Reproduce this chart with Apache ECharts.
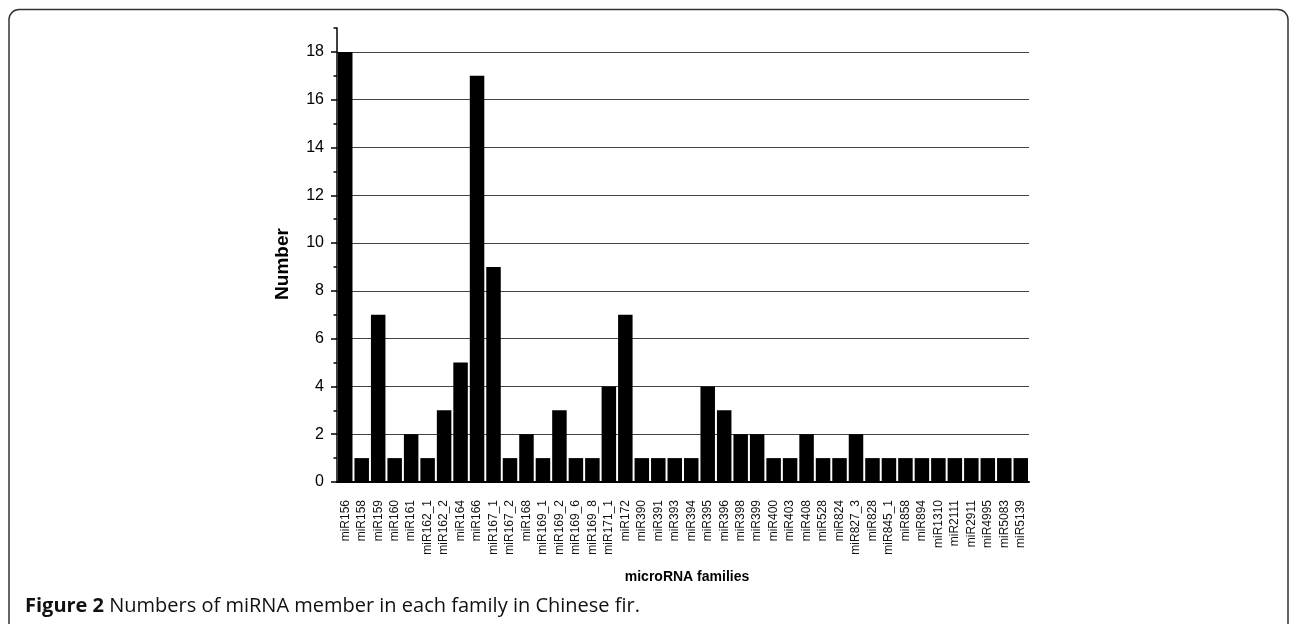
<!DOCTYPE html>
<html>
<head>
<meta charset="utf-8">
<script src="https://cdn.jsdelivr.net/npm/echarts@6/dist/echarts.min.js"></script>
<style>
  html, body { margin: 0; padding: 0; background: #fff; }
  #chart { width: 1292px; height: 624px; }
</style>
</head>
<body>
<div id="chart"></div>
<script>
// miRNA families and their member counts
const families = [
  'miR156', 'miR158', 'miR159', 'miR160', 'miR161', 'miR162_1', 'miR162_2', 'miR164',
  'miR166', 'miR167_1', 'miR167_2', 'miR168', 'miR169_1', 'miR169_2', 'miR169_6', 'miR169_8',
  'miR171_1', 'miR172', 'miR390', 'miR391', 'miR393', 'miR394', 'miR395', 'miR396',
  'miR398', 'miR399', 'miR400', 'miR403', 'miR408', 'miR528', 'miR824', 'miR827_3',
  'miR828', 'miR845_1', 'miR858', 'miR894', 'miR1310', 'miR2111', 'miR2911', 'miR4995',
  'miR5083', 'miR5139'
];
const memberCounts = [
  18, 1, 7, 1, 2, 1, 3, 5,
  17, 9, 1, 2, 1, 3, 1, 1,
  4, 7, 1, 1, 1, 1, 4, 3,
  2, 2, 1, 1, 2, 1, 1, 2,
  1, 1, 1, 1, 1, 1, 1, 1,
  1, 1
];
const yTicks = [0, 2, 4, 6, 8, 10, 12, 14, 16, 18];
const yMax = 19;

const FONT = "'Liberation Sans', Arial, sans-serif";
const chart = echarts.init(document.getElementById('chart'), null, { renderer: 'canvas' });

chart.setOption({
  animation: false,
  backgroundColor: '#ffffff',
  textStyle: { fontFamily: FONT },
  grid: { left: 337, right: 263, top: 28, bottom: 142, containLabel: false },
  xAxis: {
    type: 'category',
    data: families,
    boundaryGap: true,
    axisLine: { show: true, onZero: true, lineStyle: { color: '#000', width: 2 } },
    axisTick: { show: false },
    axisLabel: {
      rotate: 90,
      interval: 0,
      margin: 18,
      fontSize: 12,
      color: '#111',
      fontFamily: FONT
    },
    splitLine: { show: false }
  },
  yAxis: [
    {
      type: 'value',
      min: 0,
      max: yMax,
      interval: 2,
      position: 'left',
      axisLine: { show: true, lineStyle: { color: '#000', width: 1.5 } },
      axisTick: { show: true, inside: false, length: 6, customValues: yTicks, lineStyle: { color: '#000', width: 1.5 } },
      axisLabel: {
        customValues: yTicks,
        margin: 13,
        fontSize: 16,
        color: '#000',
        fontFamily: FONT
      },
      splitLine: {
        show: true,
        showMinLine: false,
        lineStyle: { color: '#444', width: 1 }
      }
    },
    {
      type: 'value',
      min: 0,
      max: yMax,
      interval: 1,
      position: 'left',
      axisLine: { show: false },
      axisTick: { show: true, inside: false, length: 3.5, lineStyle: { color: '#000', width: 1.5 } },
      axisLabel: { show: false },
      splitLine: { show: false }
    }
  ],
  series: [
    {
      type: 'bar',
      data: memberCounts,
      yAxisIndex: 0,
      barCategoryGap: '12%',
      itemStyle: { color: '#000' }
    }
  ],
  graphic: [
    {
      type: 'rect',
      shape: { x: 9, y: 9.5, width: 1279, height: 720, r: 10 },
      style: { fill: 'none', stroke: '#333', lineWidth: 1.5 },
      silent: true
    },
    {
      type: 'text',
      x: 283,
      y: 264,
      rotation: Math.PI / 2,
      style: {
        text: 'Number',
        font: 'bold 19px ' + FONT,
        fill: '#000',
        align: 'center',
        verticalAlign: 'middle'
      }
    },
    {
      type: 'text',
      x: 687,
      y: 577,
      style: {
        text: 'microRNA families',
        font: 'bold 14px ' + FONT,
        fill: '#000',
        align: 'center',
        verticalAlign: 'middle'
      }
    },
    {
      type: 'text',
      x: 25,
      y: 606,
      style: {
        text: '{b|Figure 2} Numbers of miRNA member in each family in Chinese fir.',
        font: '20px "Open Sans", sans-serif',
        fill: '#111',
        verticalAlign: 'middle',
        rich: {
          b: { font: 'bold 20px "Open Sans", sans-serif', fill: '#111' }
        }
      }
    }
  ]
});
</script>
</body>
</html>
